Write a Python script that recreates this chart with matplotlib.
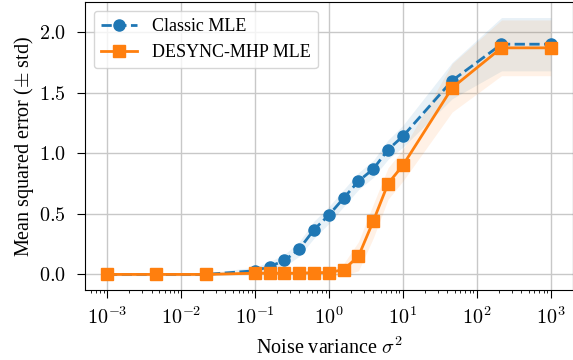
import numpy as np
import matplotlib
matplotlib.use("Agg")
import matplotlib.pyplot as plt
from matplotlib.ticker import FuncFormatter, LogLocator, NullFormatter

plt.rcParams['font.family'] = ['Liberation Serif', 'DejaVu Serif']
plt.rcParams['mathtext.fontset'] = 'cm'

# noise variances
sigma2 = [0.001, 0.00464, 0.0215, 0.1, 0.158, 0.251, 0.398, 0.631, 1.0,
          1.585, 2.512, 3.981, 6.31, 10.0, 46.4, 215.4, 1000.0]

# Classic MLE
classic_mean = [0.00, 0.00, 0.00, 0.03, 0.065, 0.115, 0.21, 0.37, 0.49,
                0.63, 0.77, 0.87, 1.03, 1.14, 1.60, 1.90, 1.90]
classic_std = [0.01, 0.01, 0.01, 0.03, 0.04, 0.05, 0.06, 0.07, 0.07,
               0.07, 0.07, 0.07, 0.08, 0.09, 0.15, 0.22, 0.22]

# DESYNC-MHP MLE
desync_mean = [0.00, 0.00, 0.00, 0.01, 0.01, 0.01, 0.01, 0.015, 0.015,
               0.04, 0.15, 0.44, 0.75, 0.90, 1.54, 1.87, 1.87]
desync_std = [0.01, 0.01, 0.01, 0.01, 0.01, 0.01, 0.01, 0.01, 0.02,
              0.05, 0.12, 0.14, 0.13, 0.13, 0.20, 0.23, 0.23]

xticks = [1e-3, 1e-2, 1e-1, 1e0, 1e1, 1e2, 1e3]
yticks = [0.0, 0.5, 1.0, 1.5, 2.0]

x = np.array(sigma2)
cm_, cs = np.array(classic_mean), np.array(classic_std)
dm, ds = np.array(desync_mean), np.array(desync_std)

fig, ax = plt.subplots(figsize=(5.73, 3.6), dpi=100)

ax.fill_between(x, cm_ - cs, cm_ + cs, color='C0', alpha=0.1, linewidth=0)
ax.fill_between(x, dm - ds, dm + ds, color='C1', alpha=0.1, linewidth=0)
ax.plot(x, cm_, linestyle='--', marker='o', color='C0', lw=2, ms=8,
        label='Classic MLE')
ax.plot(x, dm, linestyle='-', marker='s', color='C1', lw=2, ms=8,
        label='DESYNC-MHP MLE')

ax.set_xscale('log')
ax.set_xlim(10 ** -3.3, 10 ** 3.3)
ax.set_ylim(-0.13, 2.25)
ax.set_yticks(yticks)
ax.yaxis.set_major_formatter(FuncFormatter(lambda v, p: r'$%.1f$' % v))
ax.set_xticks(xticks)
ax.xaxis.set_minor_locator(LogLocator(base=10, subs=np.arange(2, 10), numticks=20))
ax.xaxis.set_minor_formatter(NullFormatter())
ax.xaxis.set_major_formatter(
    FuncFormatter(lambda v, p: r'$10^{%d}$' % int(round(np.log10(v)))))

ax.grid(True, which='major', color='#c8c8c8', linewidth=1)
ax.set_axisbelow(True)
ax.tick_params(labelsize=14.5, length=5.5)
ax.tick_params(which='minor', length=2.5)
ax.tick_params(axis='y', pad=8)
ax.tick_params(axis='x', which='major', pad=7)
ax.set_xlabel(r'Noise variance $\sigma^2$', fontsize=14.5, labelpad=6)
ax.set_ylabel(r'Mean squared error ($\pm$ std)', fontsize=14.5, labelpad=2)

ax.legend(loc='upper left', fontsize=13)

fig.subplots_adjust(left=0.148, right=1.0, bottom=0.194, top=0.995)
fig.savefig('out.png', dpi=100)
